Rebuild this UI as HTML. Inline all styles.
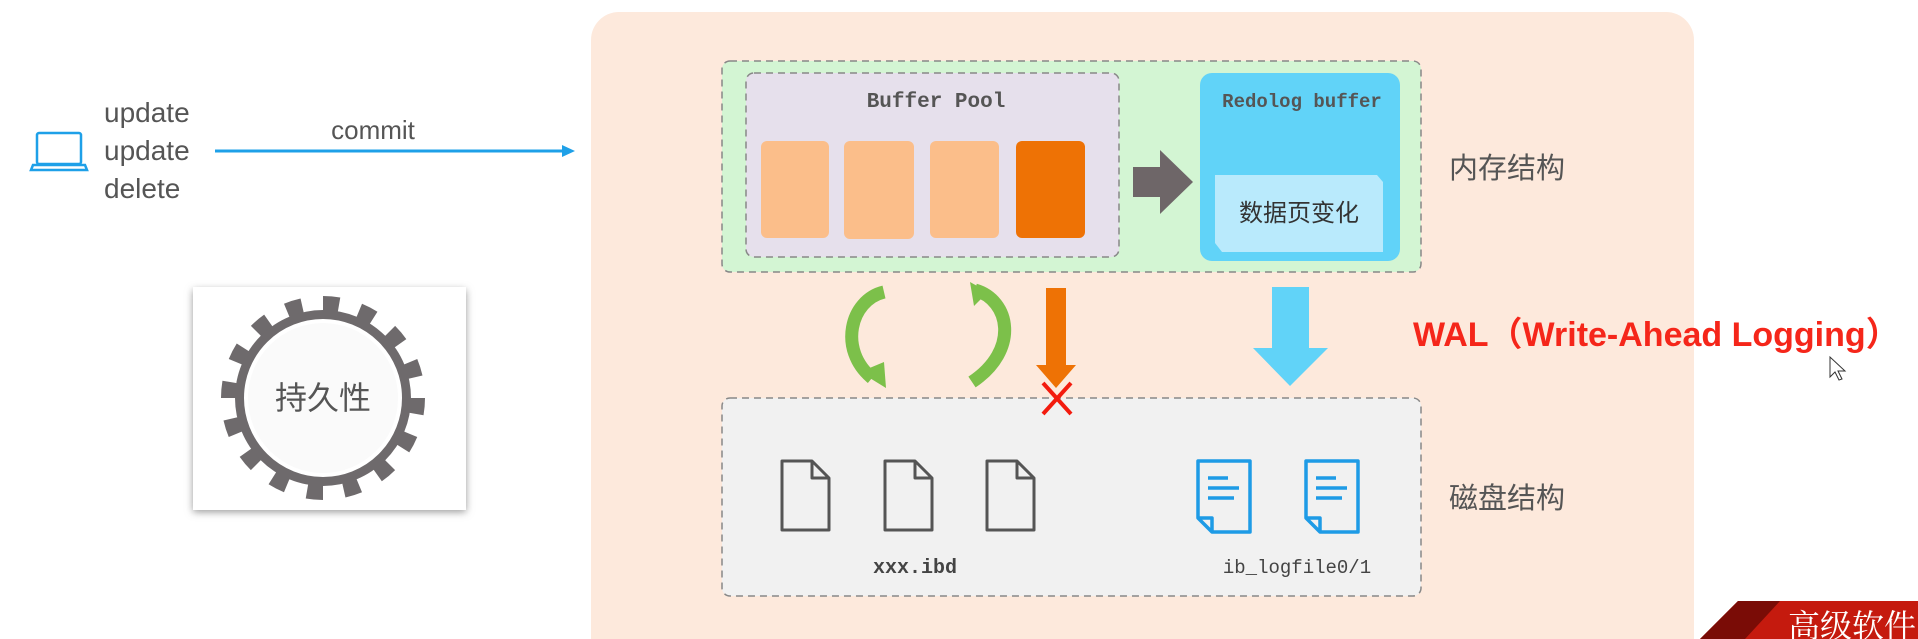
<!DOCTYPE html>
<html><head><meta charset="utf-8"><style>
html,body{margin:0;width:1918px;height:639px;overflow:hidden;background:#fff;font-family:"Liberation Sans","Noto Sans CJK SC",sans-serif;}
svg{display:block}
</style></head><body>
<svg width="1918" height="639" viewBox="0 0 1918 639" xmlns="http://www.w3.org/2000/svg">
<defs>
<filter id="sh" x="-10%" y="-10%" width="120%" height="120%"><feGaussianBlur stdDeviation="4"/></filter>
</defs>
<rect x="591" y="12" width="1103" height="627" rx="28" fill="#FDE9DC"/>
<rect x="591" y="600" width="1103" height="39" fill="#FDE9DC"/>
<rect x="722" y="61" width="699" height="211" rx="8" fill="#D3F5D3" stroke="#888" stroke-width="1.5" stroke-dasharray="7,5"/>
<rect x="746" y="73" width="373" height="184" rx="8" fill="#E6E0EC" stroke="#888" stroke-width="1.5" stroke-dasharray="7,5"/>
<text x="936" y="107" font-family="Liberation Mono,monospace" font-weight="bold" font-size="21" fill="#555" text-anchor="middle">Buffer Pool</text>
<rect x="761" y="141" width="68" height="97" rx="6" fill="#FBBE8A"/>
<rect x="844" y="141" width="70" height="98" rx="6" fill="#FBBE8A"/>
<rect x="930" y="141" width="69" height="97" rx="6" fill="#FBBE8A"/>
<rect x="1016" y="141" width="69" height="97" rx="6" fill="#EE7205"/>
<polygon points="1133,167 1160,167 1160,150 1193,182 1160,214 1160,197 1133,197" fill="#6E6668"/>
<rect x="1200" y="73" width="200" height="188" rx="12" fill="#61D3F8"/>
<text x="1302" y="107" font-family="Liberation Mono,monospace" font-weight="bold" font-size="19" fill="#555" text-anchor="middle">Redolog buffer</text>
<polygon points="1215,175 1377,175 1383,182 1383,252 1222,252 1215,243" fill="#B9EAFC"/>
<text x="1299" y="221" font-size="24" fill="#333" text-anchor="middle">数据页变化</text>
<text x="1449" y="178" font-size="29" fill="#555">内存结构</text>
<rect x="722" y="398" width="699" height="198" rx="8" fill="#F1F1F1" stroke="#888" stroke-width="1.5" stroke-dasharray="7,5"/>
<g fill="none" stroke="#555" stroke-width="3" stroke-linejoin="round">
<path d="M782,461 h30 l17,17 v52 h-47 z M812,461 v17 h17"/>
<path d="M885,461 h30 l17,17 v52 h-47 z M915,461 v17 h17"/>
<path d="M987,461 h30 l17,17 v52 h-47 z M1017,461 v17 h17"/>
</g>
<g fill="none" stroke="#1E9BE6" stroke-width="3.5" stroke-linejoin="round">
<path d="M1198,461 h52 v71 h-38 l-14,-14 z M1198,518 h14 v14"/>
<path d="M1306,461 h52 v71 h-38 l-14,-14 z M1306,518 h14 v14"/>
<path d="M1208,478 h20 M1208,488 h31 M1208,498 h26"/>
<path d="M1316,478 h20 M1316,488 h31 M1316,498 h26"/>
</g>
<text x="915" y="573" font-family="Liberation Mono,monospace" font-weight="bold" font-size="20" fill="#444" text-anchor="middle">xxx.ibd</text>
<text x="1297" y="573" font-family="Liberation Mono,monospace" font-size="19" fill="#444" text-anchor="middle">ib_logfile0/1</text>
<text x="1449" y="508" font-size="29" fill="#555">磁盘结构</text>
<path d="M884,292 C850,300 838,350 872,378" fill="none" stroke="#7CC04A" stroke-width="13"/>
<polygon points="860,372 886,388 884,362" fill="#7CC04A"/>
<path d="M975,290 C1010,300 1020,350 972,382" fill="none" stroke="#7CC04A" stroke-width="13"/>
<polygon points="970,282 974,306 988,292" fill="#7CC04A"/>
<polygon points="1046,288 1066,288 1066,365 1076,365 1056,388 1036,365 1046,365" fill="#EE7205"/>
<path d="M1043,383 L1071,414 M1071,383 L1043,414" stroke="#F31B0E" stroke-width="4"/>
<polygon points="1272,287 1309,287 1309,348 1328,348 1290,386 1253,348 1272,348" fill="#61D3F8"/>
<text x="1413" y="346" font-weight="bold" font-size="34" fill="#F5261A">WAL（Write-Ahead Logging）</text>
<path d="M1830,357 v20 l5,-5 l4,8 l3,-1 l-4,-8 h7 z" fill="#fff" stroke="#333" stroke-width="1"/>
<g fill="none" stroke="#1EA0E8" stroke-width="2.5"><rect x="37" y="133" width="44" height="31" rx="2"/><path d="M33,165 h52 l2,5 h-56 z"/></g>
<g font-size="28" fill="#555"><text x="104" y="122">update</text><text x="104" y="160">update</text><text x="104" y="198">delete</text></g>
<text x="373" y="139" font-size="26" fill="#555" text-anchor="middle">commit</text>
<line x1="215" y1="151" x2="565" y2="151" stroke="#1EA0E8" stroke-width="3"/>
<polygon points="562,145 575,151 562,157" fill="#1EA0E8"/>
<rect x="193" y="290" width="273" height="222" fill="#999" filter="url(#sh)"/>
<rect x="193" y="287" width="273" height="223" fill="#fff"/>
<circle cx="323" cy="398" r="95" fill="none" stroke="#fff" stroke-width="20" stroke-dasharray="19,17.9" stroke-dashoffset="-1"/>
<circle cx="323" cy="398" r="94" fill="none" stroke="#6E6A6C" stroke-width="16" stroke-dasharray="16,20.9"/>
<circle cx="323" cy="398" r="88" fill="#6E6A6C"/>
<circle cx="323" cy="398" r="77" fill="#fafafa" stroke="#fff" stroke-width="4"/>
<text x="323" y="409" font-size="32" fill="#555" text-anchor="middle">持久性</text>
<polygon points="1738,601 1918,601 1918,639 1700,639" fill="#C51A0E"/>
<polygon points="1738,601 1780,601 1745,639 1700,639" fill="#7A0C06"/>
<text x="1788" y="637" font-family="Noto Serif CJK SC,serif" font-size="32" fill="#fff">高级软件</text>
</svg>
</body></html>
